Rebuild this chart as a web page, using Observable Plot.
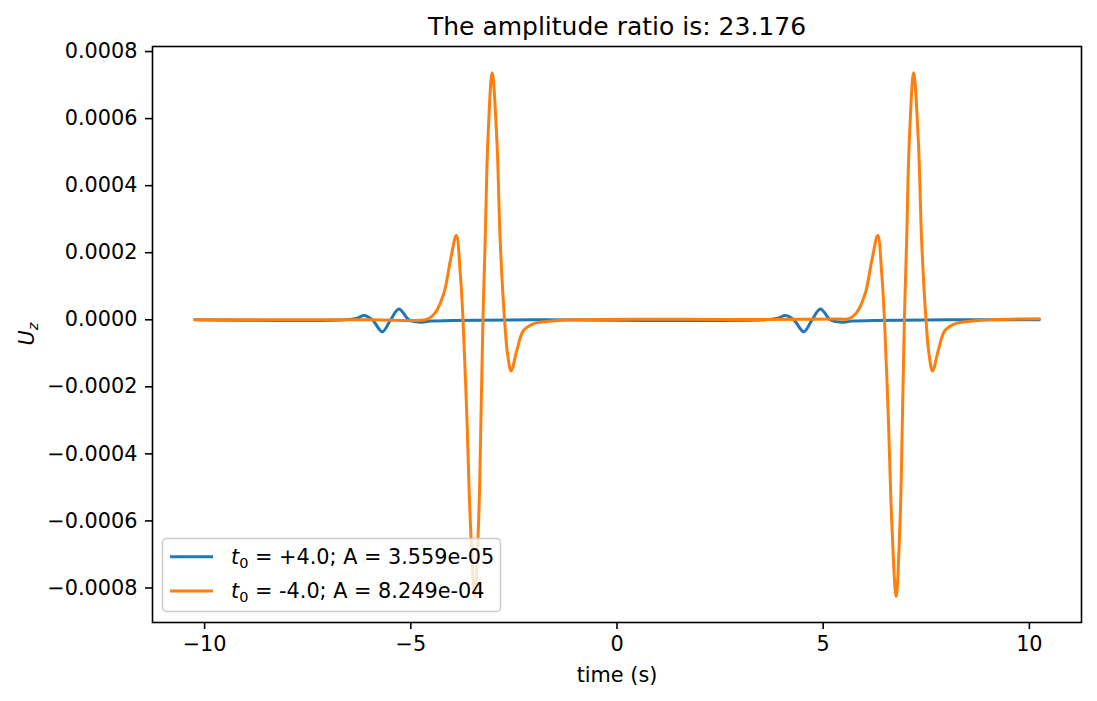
<!DOCTYPE html>
<html>
<head>
<meta charset="utf-8">
<script src="https://cdn.jsdelivr.net/npm/d3@7"></script>
<script src="https://cdn.jsdelivr.net/npm/@observablehq/plot@0.6"></script>
<style>
  html, body { margin: 0; padding: 0; background: #fff; }
  #chart { width: 1097px; height: 701px; }
</style>
</head>
<body>
<div id="chart"></div>
<script>
// ---- Data ----
const titleText = "The amplitude ratio is: 23.176";
const xLabel = "time (s)";
const xTicks = [-10, -5, 0, 5, 10];
const yTicks = [-0.0008, -0.0006, -0.0004, -0.0002, 0, 0.0002, 0.0004, 0.0006, 0.0008];

// Series 1 (blue): t0 = +4.0 ; values in 1e-4 units
const blueT = [-10.24, -6.6, -6.3, -6.133, -5.933, -5.691, -5.49, -5.288, -5.046, -4.805, -4.524, -4.0, -2.0,
               3.6, 3.9, 4.087, 4.287, 4.529, 4.730, 4.932, 5.174, 5.415, 5.696, 6.2, 8.0, 10.24];
const blueU = [0, 0, 0.05, 0.13, 0, -0.356, 0, 0.32, 0, -0.07, -0.04, -0.02, 0,
               0, 0.05, 0.13, 0, -0.356, 0, 0.32, 0, -0.07, -0.04, -0.02, 0, 0];

// Series 2 (orange): t0 = -4.0 ; values in 1e-4 units
const orangeT = [-10.24, -6.0, -4.6, -4.42, -4.20, -4.04, -3.896, -3.80, -3.734, -3.638, -3.558, -3.452, -3.355,
                 -3.30, -3.251, -3.196, -3.131, -3.027, -2.913, -2.833, -2.727, -2.655, -2.568, -2.43, -2.268,
                 -2.027, -1.706, -1.15, 3.0, 5.4, 5.616, 5.797, 6.019, 6.179, 6.324, 6.420, 6.486, 6.582,
                 6.662, 6.768, 6.865, 6.920, 6.969, 7.024, 7.089, 7.193, 7.307, 7.387, 7.493, 7.565, 7.652,
                 7.790, 7.952, 8.193, 8.514, 9.07, 10.24];
const orangeU = [0, 0, 0.02, 0.19, 0.785, 1.77, 2.52, 1.38, 0, -3.01, -5.99, -8.249, -5.99,
                 -3.01, 0, 2.37, 5.35, 7.37, 5.35, 2.37, 0, -1.01, -1.53, -0.92, -0.32,
                 -0.12, -0.05, 0, 0.01, 0.02, 0.03, 0.19, 0.785, 1.77, 2.52, 1.38, 0, -3.01,
                 -5.99, -8.249, -5.99, -3.01, 0, 2.37, 5.35, 7.37, 5.35, 2.37, 0, -1.01, -1.53,
                 -0.92, -0.32, -0.12, -0.05, 0, 0.03];
const unit = 1e-4;

const seriesNames = ["+4.0", "-4.0"];
const seriesAmps = ["3.559e-05", "8.249e-04"];
const colors = ["#1f77b4", "#ff7f0e"];

const blue = blueT.map((t, i) => ({t, u: blueU[i] * unit}));
const orange = orangeT.map((t, i) => ({t, u: orangeU[i] * unit}));

const font = "DejaVu Sans, sans-serif";

const svg = Plot.plot({
  width: 1097,
  height: 701,
  marginLeft: 152,
  marginRight: 16,
  marginTop: 46,
  marginBottom: 79,
  style: {fontFamily: font, fontSize: "20.8px", color: "black", background: "white"},
  x: {domain: [-11.264, 11.264]},
  y: {domain: [-9.03e-4, 8.151e-4]},
  marks: [
    Plot.line(blue, {x: "t", y: "u", stroke: colors[0], strokeWidth: 3, curve: "catmull-rom"}),
    Plot.line(orange, {x: "t", y: "u", stroke: colors[1], strokeWidth: 3, curve: "catmull-rom"}),
    Plot.frame({stroke: "black", strokeWidth: 1.6}),
    Plot.axisX({ticks: xTicks, tickSize: 7, tickPadding: 7, strokeWidth: 1.6, label: null, fontSize: 20.8}),
    Plot.axisY({ticks: yTicks, tickSize: 7, tickPadding: 8, strokeWidth: 1.6, label: null, fontSize: 20.8,
                tickFormat: d3.format(".4f")}),
    Plot.text([titleText], {frameAnchor: "top", lineAnchor: "middle", dy: -20, text: d => d, fontSize: 25, fill: "black"}),
    Plot.text([xLabel], {frameAnchor: "bottom", lineAnchor: "middle", dy: 53, text: d => d, fontSize: 20.8, fill: "black"})
  ]
});

document.getElementById("chart").appendChild(svg);

const s = d3.select(svg);

// Y label: U_z
const yl = s.append("text")
  .attr("transform", "translate(34,334) rotate(-90)")
  .attr("text-anchor", "middle")
  .attr("font-family", font)
  .attr("font-size", 20.8)
  .attr("fill", "black");
yl.append("tspan").attr("font-style", "italic").text("U");
yl.append("tspan").attr("font-style", "italic").attr("font-size", 14.5).attr("dy", 4).text("z");

// Legend
const lg = s.append("g").attr("text-anchor", "start");
lg.append("rect")
  .attr("x", 162.5).attr("y", 538.5).attr("width", 338).attr("height", 73)
  .attr("rx", 4).attr("ry", 4)
  .attr("fill", "white").attr("fill-opacity", 0.8)
  .attr("stroke", "#cccccc").attr("stroke-width", 1.5);
const rowY = [556.7, 591];
seriesNames.forEach((name, i) => {
  lg.append("line")
    .attr("x1", 170).attr("x2", 213).attr("y1", rowY[i]).attr("y2", rowY[i])
    .attr("stroke", colors[i]).attr("stroke-width", 3);
  const tx = lg.append("text")
    .attr("x", 231).attr("y", rowY[i]).attr("dy", "0.36em")
    .attr("text-anchor", "start")
    .attr("font-family", font).attr("font-size", 20.8).attr("fill", "black");
  tx.append("tspan").attr("font-style", "italic").text("t");
  tx.append("tspan").attr("font-size", 14.5).attr("dy", 4).text("0");
  tx.append("tspan").attr("dy", -4).text(" = " + name + "; A = " + seriesAmps[i]);
});
</script>
</body>
</html>
